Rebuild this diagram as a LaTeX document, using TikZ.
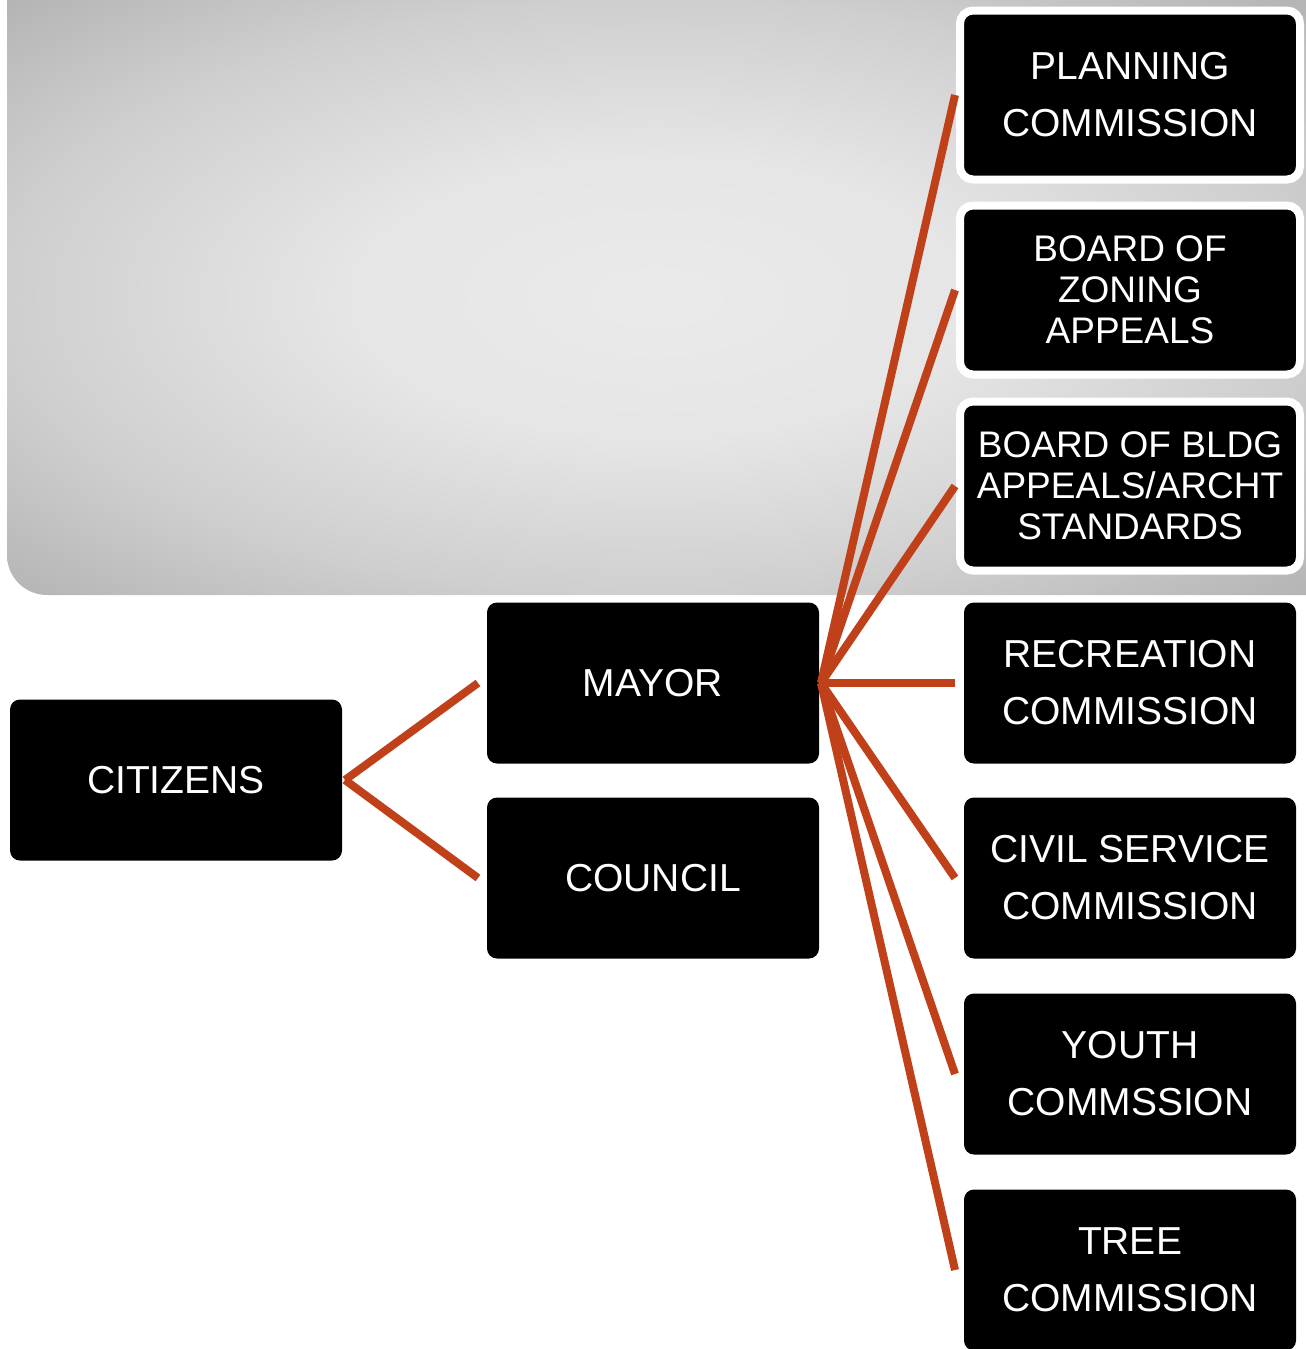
\documentclass[tikz,border=0pt]{standalone}
\usepackage{fontspec}
\setmainfont{Liberation Sans}
\usetikzlibrary{calc}
\definecolor{linkred}{HTML}{C0401A}

\pgfdeclareradialshading{backshade}{\pgfpoint{0bp}{0bp}}{%
  color(0bp)=(black!8); color(12bp)=(black!10); color(25bp)=(black!19);
  color(36bp)=(black!30); color(50bp)=(black!30)}

\tikzset{
  orgbox/.style={fill=black, text=white, rounded corners=10pt, minimum width=332pt,
    minimum height=161pt, inner sep=0pt, outer sep=0pt, align=center,
    font=\fontsize{39}{57}\selectfont},
  framedbox/.style={orgbox, draw=white, line width=8pt, minimum width=340pt,
    minimum height=169pt, rounded corners=13pt},
  tightbox/.style={font=\fontsize{37}{41}\selectfont},
  link/.style={linkred, line width=8pt},
}

\begin{document}
\begin{tikzpicture}[x=1pt, y=-1pt]

\useasboundingbox (0,0) rectangle (1306,1349);

\shade[shading=backshade]
  (1306,0) -- (7,0) [rounded corners=40pt] -- (7,595) [sharp corners] -- (1306,595) -- cycle;

\node[orgbox] (citizens) at (176,780) {CITIZENS};
\node[orgbox] (mayor) at (653,683) {MAYOR};
\node[orgbox] (council) at (653,878) {COUNCIL};

\node[framedbox] (plan) at (1130,95) {PLANNING\\COMMISSION};
\node[framedbox, tightbox] (zone) at (1130,290) {BOARD OF\\ZONING\\APPEALS};
\node[framedbox, tightbox] (bldg) at (1130,486) {BOARD OF BLDG\\APPEALS/ARCHT\\STANDARDS};

\foreach \name/\y/\txt in {rec/683/{RECREATION\\COMMISSION},
    civil/878/{CIVIL SERVICE\\COMMISSION},
    youth/1074/{YOUTH\\COMMSSION},
    tree/1270/{TREE\\COMMISSION}} {
  \node[orgbox] (\name) at (1130,\y) {\txt};
};

\draw[link] ([xshift=3pt]citizens.east) -- ([xshift=-9pt]mayor.west);
\draw[link] ([xshift=3pt]citizens.east) -- ([xshift=-9pt]council.west);

\foreach \name in {plan,zone,bldg} {
  \draw[link] ([xshift=2pt]mayor.east) -- ([xshift=-5pt]\name.west);
};
\foreach \name in {rec,civil,youth,tree} {
  \draw[link] ([xshift=2pt]mayor.east) -- ([xshift=-9pt]\name.west);
};

\end{tikzpicture}
\end{document}
